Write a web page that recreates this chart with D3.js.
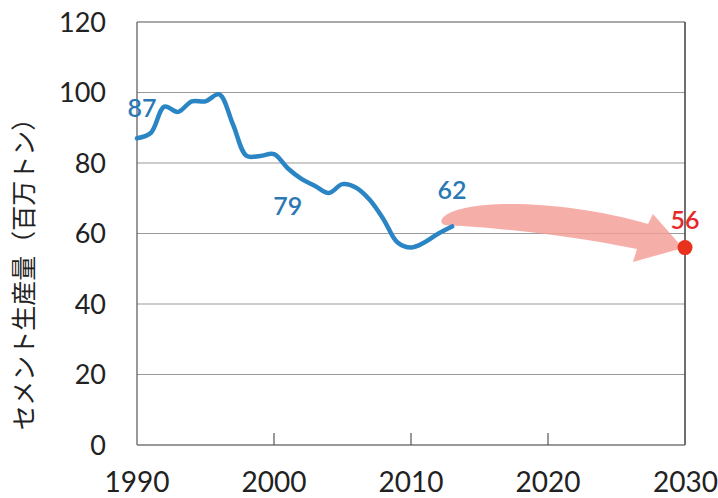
<!DOCTYPE html>
<html><head><meta charset="utf-8">
<script src="https://cdn.jsdelivr.net/npm/d3@7"></script>
<style>body{margin:0;background:#fff}svg{display:block}</style>
</head><body>
<svg id="c" width="718" height="498"></svg>
<script>
const years = [1990,1991,1992,1993,1994,1995,1996,1997,1998,1999,2000,2001,2002,2003,2004,2005,2006,2007,2008,2009,2010,2011,2012,2013];
const production = [87,88.5,96,94.5,97.5,97.5,99.5,91,82,82,82.5,78.5,75.5,73.5,71.5,74,73,69.5,64,57.5,56,57.5,60,62];
const targetYear = 2030, targetValue = 56;
const xTicks = [1990,2000,2010,2020,2030];
const yTicks = [0,20,40,60,80,100,120];
const yTitle = "セメント生産量（百万トン）";
const labels = [{year:1990,value:87,text:"87"},{year:2001,value:79,text:"79"},{year:2013,value:62,text:"62"}];
// arrow outline in data units [year, value]
const arrowPts = [[2012.26,64.1],[2013.3,70.0],[2020.88,70.0],[2027.30,62.7],[2027.66,65.5],[2029.85,55.9],[2026.20,51.9],[2026.50,55.6],[2020.88,60.0],[2015.04,62.0],[2012.99,62.3]];

const svg = d3.select("#c");
const L=137,R=685,T=22,B=445;
const x = d3.scaleLinear().domain([1990,2030]).range([L,R]);
const y = d3.scaleLinear().domain([0,120]).range([B,T]);
const font = "Lato, 'Open Sans', sans-serif";

// gridlines
svg.append("g").selectAll("line").data(yTicks.filter(v=>v>0&&v<120)).join("line")
  .attr("x1",L).attr("x2",R).attr("y1",d=>y(d)).attr("y2",d=>y(d))
  .attr("stroke","#9a9a9a").attr("stroke-width",1.2);
// frame
svg.append("line").attr("x1",L).attr("x2",R).attr("y1",y(120)).attr("y2",y(120)).attr("stroke","#555").attr("stroke-width",1.2);
svg.append("line").attr("x1",R).attr("x2",R).attr("y1",y(120)).attr("y2",B).attr("stroke","#333").attr("stroke-width",1.4);
svg.append("line").attr("x1",L).attr("x2",L).attr("y1",y(120)).attr("y2",B).attr("stroke","#555").attr("stroke-width",1.2);
svg.append("line").attr("x1",L).attr("x2",R).attr("y1",B).attr("y2",B).attr("stroke","#777").attr("stroke-width",1.4);
// x inner ticks
svg.append("g").selectAll("line").data(xTicks.slice(1,-1)).join("line")
  .attr("x1",d=>x(d)).attr("x2",d=>x(d)).attr("y1",B).attr("y2",B-12)
  .attr("stroke","#555").attr("stroke-width",1.2);

// tick labels
svg.append("g").selectAll("text").data(yTicks).join("text")
  .attr("x",106).attr("y",d=>y(d)).attr("dy","0.36em").attr("text-anchor","end")
  .attr("font-family",font).attr("font-size",27).attr("fill","#222").text(d=>d);
svg.append("g").selectAll("text").data(xTicks).join("text")
  .attr("x",d=>x(d)).attr("y",492).attr("text-anchor",d=>d===2030?"end":"middle")
  .attr("dx",d=>d===2030?33:0)
  .attr("font-family",font).attr("font-size",28).attr("fill","#222").text(d=>d);

// axis title
svg.append("text").attr("transform","translate(33,268) rotate(-90)")
  .attr("text-anchor","middle").attr("font-family","'Noto Sans CJK JP', sans-serif")
  .attr("font-size",25).attr("fill","#222").text(yTitle);

// arrow
const ap = arrowPts.map(p=>[x(p[0]),y(p[1])]);
const path = d3.path();
path.moveTo(ap[0][0],ap[0][1]);
path.bezierCurveTo(ap[1][0],ap[1][1],ap[2][0],ap[2][1],ap[3][0],ap[3][1]);
path.lineTo(ap[4][0],ap[4][1]);
path.lineTo(ap[5][0],ap[5][1]);
path.lineTo(ap[6][0],ap[6][1]);
path.lineTo(ap[7][0],ap[7][1]);
path.bezierCurveTo(ap[8][0],ap[8][1],ap[9][0],ap[9][1],ap[10][0],ap[10][1]);
path.quadraticCurveTo(ap[0][0]-3,ap[10][1]+1,ap[0][0],ap[0][1]);
path.closePath();
svg.append("path").attr("d",path.toString()).attr("fill","#f49c96").attr("fill-opacity",0.82);

// line
const line = d3.line().x((d,i)=>x(years[i])).y(d=>y(d)).curve(d3.curveCatmullRom.alpha(0.5));
svg.append("path").datum(production).attr("d",line).attr("fill","none")
  .attr("stroke","#2a85c4").attr("stroke-width",4.5).attr("stroke-linejoin","round").attr("stroke-linecap","round");

// target point
svg.append("circle").attr("cx",x(targetYear)).attr("cy",y(targetValue)).attr("r",7.5).attr("fill","#e8321e");
svg.append("text").attr("x",x(targetYear)).attr("y",y(targetValue)-19).attr("text-anchor","middle")
  .attr("font-family",font).attr("font-size",25).attr("font-weight",600).attr("fill","#e62828").text(targetValue);

// data labels (offsets in pixels from the data point)
const off = {"87":[5,-21],"79":[0,48],"62":[0,-27]};
svg.append("g").selectAll("text").data(labels).join("text")
  .attr("x",d=>x(d.year)+off[d.text][0]).attr("y",d=>y(d.value)+off[d.text][1])
  .attr("text-anchor","middle").attr("font-family",font).attr("font-size",25).attr("font-weight",600)
  .attr("fill","#2a78b5").text(d=>d.text);
</script>
</body></html>
